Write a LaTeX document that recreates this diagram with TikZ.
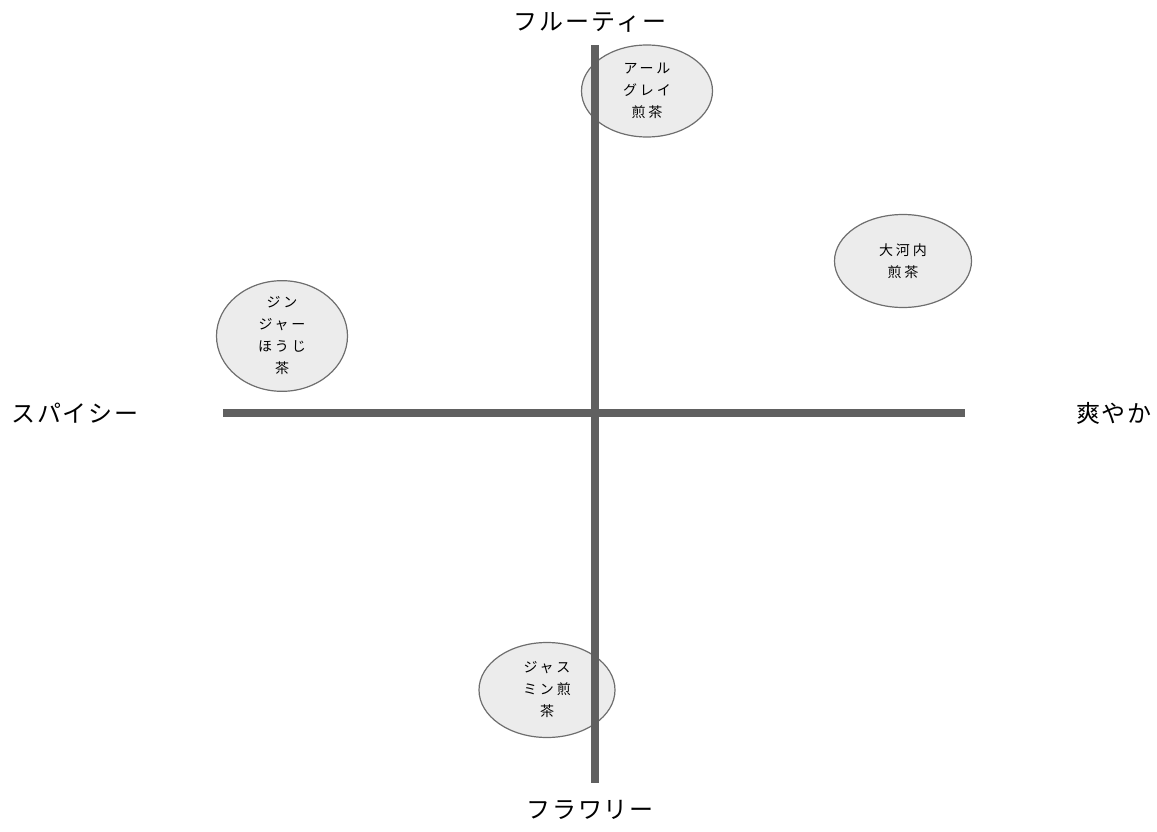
\documentclass[tikz,border=0pt]{standalone}
\usepackage{fontspec}
\usetikzlibrary{shapes.geometric}
\newfontfamily\jp{Noto Sans CJK JP}[LetterSpace=20]
\newfontfamily\jpl{Noto Sans CJK JP}[LetterSpace=8]
\begin{document}
\begin{tikzpicture}[x=1pt,y=-1pt,
  axisline/.style={line width=8pt,draw={rgb,255:red,96;green,96;blue,96}},
  tea/.style={ellipse,draw={rgb,255:red,110;green,110;blue,110},line width=1.2pt,fill={rgb,255:red,236;green,236;blue,236},inner sep=0pt,font=\jp\fontsize{14}{22}\selectfont,align=center},
  axislabel/.style={font=\jpl\fontsize{24}{28}\selectfont,inner sep=0pt}]
\useasboundingbox (0,0) rectangle (1157,832);
\node[tea,minimum width=131pt,minimum height=92pt] (earl) at (647,91) {アール\\グレイ\\煎茶};
\node[tea,minimum width=137pt,minimum height=93pt] (okochi) at (903,261) {大河内\\煎茶};
\node[tea,minimum width=131pt,minimum height=101pt] (ginger) at (282,336) {ジン\\ジャー\\ほうじ\\茶};
\node[tea,minimum width=136pt,minimum height=95pt] (jasmine) at (547,690) {ジャス\\ミン煎\\茶};
\coordinate (top) at (595,45);
\coordinate (bottom) at (595,783);
\coordinate (left) at (223,413);
\coordinate (right) at (965,413);
\draw[axisline] (top) -- (bottom);
\draw[axisline] (left) -- (right);
\node[axislabel] (fruity) at (590,22) {フルーティー};
\node[axislabel] (spicy) at (75,413) {スパイシー};
\node[axislabel] (fresh) at (1114,413) {爽やか};
\node[axislabel] (flowery) at (590,810) {フラワリー};
\end{tikzpicture}
\end{document}
